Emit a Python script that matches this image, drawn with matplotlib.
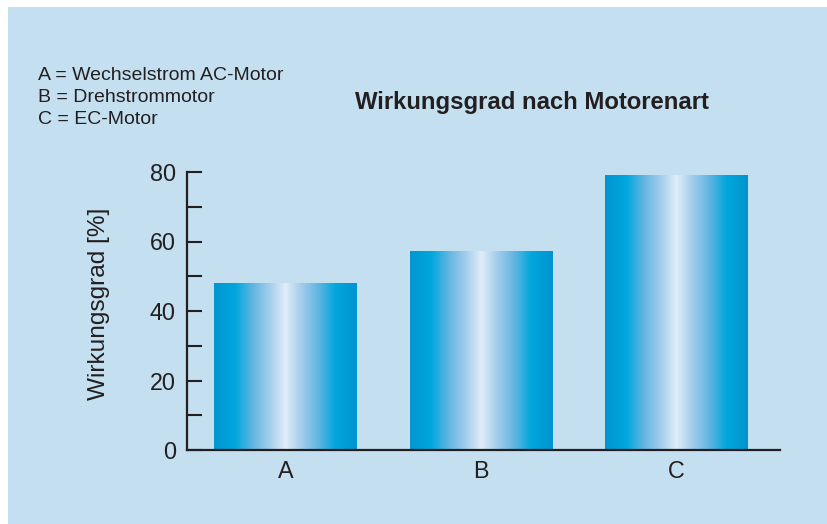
import numpy as np
import matplotlib.pyplot as plt
from matplotlib.colors import LinearSegmentedColormap

# Wirkungsgrad nach Motorenart
categories = ['A', 'B', 'C']
efficiency = [48, 57, 79]
legend_lines = ['A = Wechselstrom AC-Motor', 'B = Drehstrommotor', 'C = EC-Motor']

bg = '#c3dff0'
ink = '#231f20'

# horizontal gradient used inside each bar
bar_cmap = LinearSegmentedColormap.from_list('bar', [
    (0.00, '#0096d1'), (0.15, '#00a7dd'), (0.27, '#62b5e1'),
    (0.40, '#a9d0ec'), (0.50, '#e0edf8'), (0.60, '#a9d0ec'),
    (0.73, '#62b5e1'), (0.85, '#00a7dd'), (1.00, '#0094cf')])

fig = plt.figure(figsize=(8.27, 5.24), dpi=100)
fig.patch.set_facecolor('white')
fig.patches.append(plt.Rectangle((8/827, 0), 1, 1 - 7/524, transform=fig.transFigure,
                                 facecolor=bg, edgecolor='none', zorder=-10))

ax = fig.add_axes([187/827, 1 - 450/524, 593/827, 278/524])
ax.set_facecolor('none')

x = np.arange(len(categories))
bars = ax.bar(x, efficiency, width=0.73, color='none', edgecolor='none')
grad = np.linspace(0, 1, 256).reshape(1, -1)
for b in bars:
    x0, y0 = b.get_x(), b.get_y()
    ax.imshow(grad, cmap=bar_cmap, aspect='auto', interpolation='bilinear',
              extent=[x0, x0 + b.get_width(), y0, y0 + b.get_height()], zorder=2)

ax.set_xlim(-0.504, 2.53)
ax.set_ylim(0, 80)
ax.set_yticks([0, 20, 40, 60, 80])
ax.set_yticks([10, 30, 50, 70], minor=True)
ax.set_xticks(x)
ax.set_xticklabels(categories)

for s in ['top', 'right']:
    ax.spines[s].set_visible(False)
for s in ['left', 'bottom']:
    ax.spines[s].set_color(ink)
    ax.spines[s].set_linewidth(1.6)
    ax.spines[s].set_zorder(3)

ax.tick_params(axis='y', which='both', direction='in', length=11, width=1.5,
               color=ink, labelsize=16.8, labelcolor=ink, pad=8)
ax.tick_params(axis='x', length=0, labelsize=16.8, labelcolor=ink, pad=7)
for lab in ax.get_xticklabels() + ax.get_yticklabels():
    lab.set_family('Liberation Sans')

ax.set_ylabel('Wirkungsgrad [%]', fontsize=17.6, color=ink, family='Liberation Sans')
ax.yaxis.set_label_coords(-0.13, 0.525)

fig.text(532/827, 1 - 103/524, 'Wirkungsgrad nach Motorenart', ha='center', va='center',
         fontsize=17.2, fontweight='bold', color=ink, family='Liberation Sans')

for i, line in enumerate(legend_lines):
    fig.text(38/827, 1 - (75 + i*22)/524, line, ha='left', va='center',
             fontsize=14, color=ink, family='Liberation Sans')

fig.savefig('out.png', dpi=100, facecolor=fig.get_facecolor())
